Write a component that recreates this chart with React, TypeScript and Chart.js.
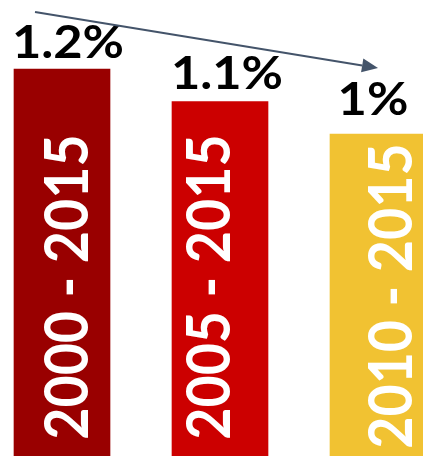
import React, { useEffect, useRef } from "react";
import { Chart, registerables } from "chart.js";

Chart.register(...registerables);

const categories = ["2000 - 2015", "2005 - 2015", "2010 - 2015"];
const values = [1.2, 1.1, 1.0];
const valueLabels = ["1.2%", "1.1%", "1%"];
const barColors = ["#990000", "#CC0000", "#F1C232"];

const labelPlugin = {
  id: "customLabels",
  afterDatasetsDraw(chart: any) {
    const ctx = chart.ctx;
    const meta = chart.getDatasetMeta(0);
    const bottom = chart.chartArea.bottom;
    const topDx = [6, 7, -5];
    const topGap = [11, 12, 19];
    const inDx = [26, 10, 34];
    const inStart = [18, 18, 9];
    ctx.save();
    meta.data.forEach((bar: any, i: number) => {
      // value label above bar
      ctx.save();
      ctx.font = "bold 46px Lato";
      ctx.fillStyle = "#000000";
      ctx.textAlign = "center";
      ctx.textBaseline = "alphabetic";
      ctx.translate(bar.x + topDx[i], bar.y - topGap[i]);
      ctx.scale(1.1, 1);
      ctx.fillText(valueLabels[i], 0, 0);
      ctx.restore();

      // rotated category label inside bar
      ctx.save();
      ctx.font = "bold 62px Lato";
      ctx.fillStyle = "#FFFFFF";
      ctx.textAlign = "left";
      ctx.textBaseline = "alphabetic";
      const m = ctx.measureText(categories[i]);
      const len = m.actualBoundingBoxRight + m.actualBoundingBoxLeft;
      const sx = 301 / len;
      ctx.translate(bar.x + inDx[i], bottom - inStart[i]);
      ctx.rotate(-Math.PI / 2);
      ctx.scale(sx, 1);
      ctx.fillText(categories[i], m.actualBoundingBoxLeft, 0);
      ctx.restore();
    });

    // trend arrow
    const b0 = meta.data[0];
    const b2 = meta.data[2];
    const x1 = b0.x - 27;
    const y1 = 12;
    const x2 = b2.x;
    const y2 = 68;
    const ang = Math.atan2(y2 - y1, x2 - x1);
    const headLen = 16;
    const headW = 7;
    ctx.strokeStyle = "#44546A";
    ctx.fillStyle = "#44546A";
    ctx.lineWidth = 2;
    ctx.beginPath();
    ctx.moveTo(x1, y1);
    ctx.lineTo(x2 - headLen * Math.cos(ang), y2 - headLen * Math.sin(ang));
    ctx.stroke();
    ctx.beginPath();
    ctx.moveTo(x2, y2);
    const bx = x2 - headLen * Math.cos(ang);
    const by = y2 - headLen * Math.sin(ang);
    ctx.lineTo(bx + headW * Math.sin(ang), by - headW * Math.cos(ang));
    ctx.lineTo(bx - headW * Math.sin(ang), by + headW * Math.cos(ang));
    ctx.closePath();
    ctx.fill();
    ctx.restore();
  },
};

export default function App() {
  const canvasRef = useRef<HTMLCanvasElement | null>(null);

  useEffect(() => {
    if (!canvasRef.current) return;
    const chart = new Chart(canvasRef.current, {
      type: "bar",
      data: {
        labels: categories,
        datasets: [
          {
            data: values,
            backgroundColor: barColors,
            borderWidth: 0,
            barThickness: 96,
            clip: false as any,
          },
        ],
      },
      options: {
        responsive: false,
        animation: false,
        devicePixelRatio: 1,
        layout: { padding: { left: 62, right: 45, top: 4, bottom: 0 } },
        plugins: {
          legend: { display: false },
          tooltip: { enabled: false },
          title: { display: false },
        },
        scales: {
          x: { display: false, offset: false, grid: { display: false } },
          y: { display: false, min: 0.0092, max: 1.4, grid: { display: false } },
        },
      },
      plugins: [labelPlugin],
    });
    return () => chart.destroy();
  }, []);

  return (
    <div style={{ position: "absolute", left: 0, top: 0, width: 423, height: 456, background: "#FFFFFF" }}>
      <canvas ref={canvasRef} width={423} height={456} style={{ display: "block" }} />
    </div>
  );
}
